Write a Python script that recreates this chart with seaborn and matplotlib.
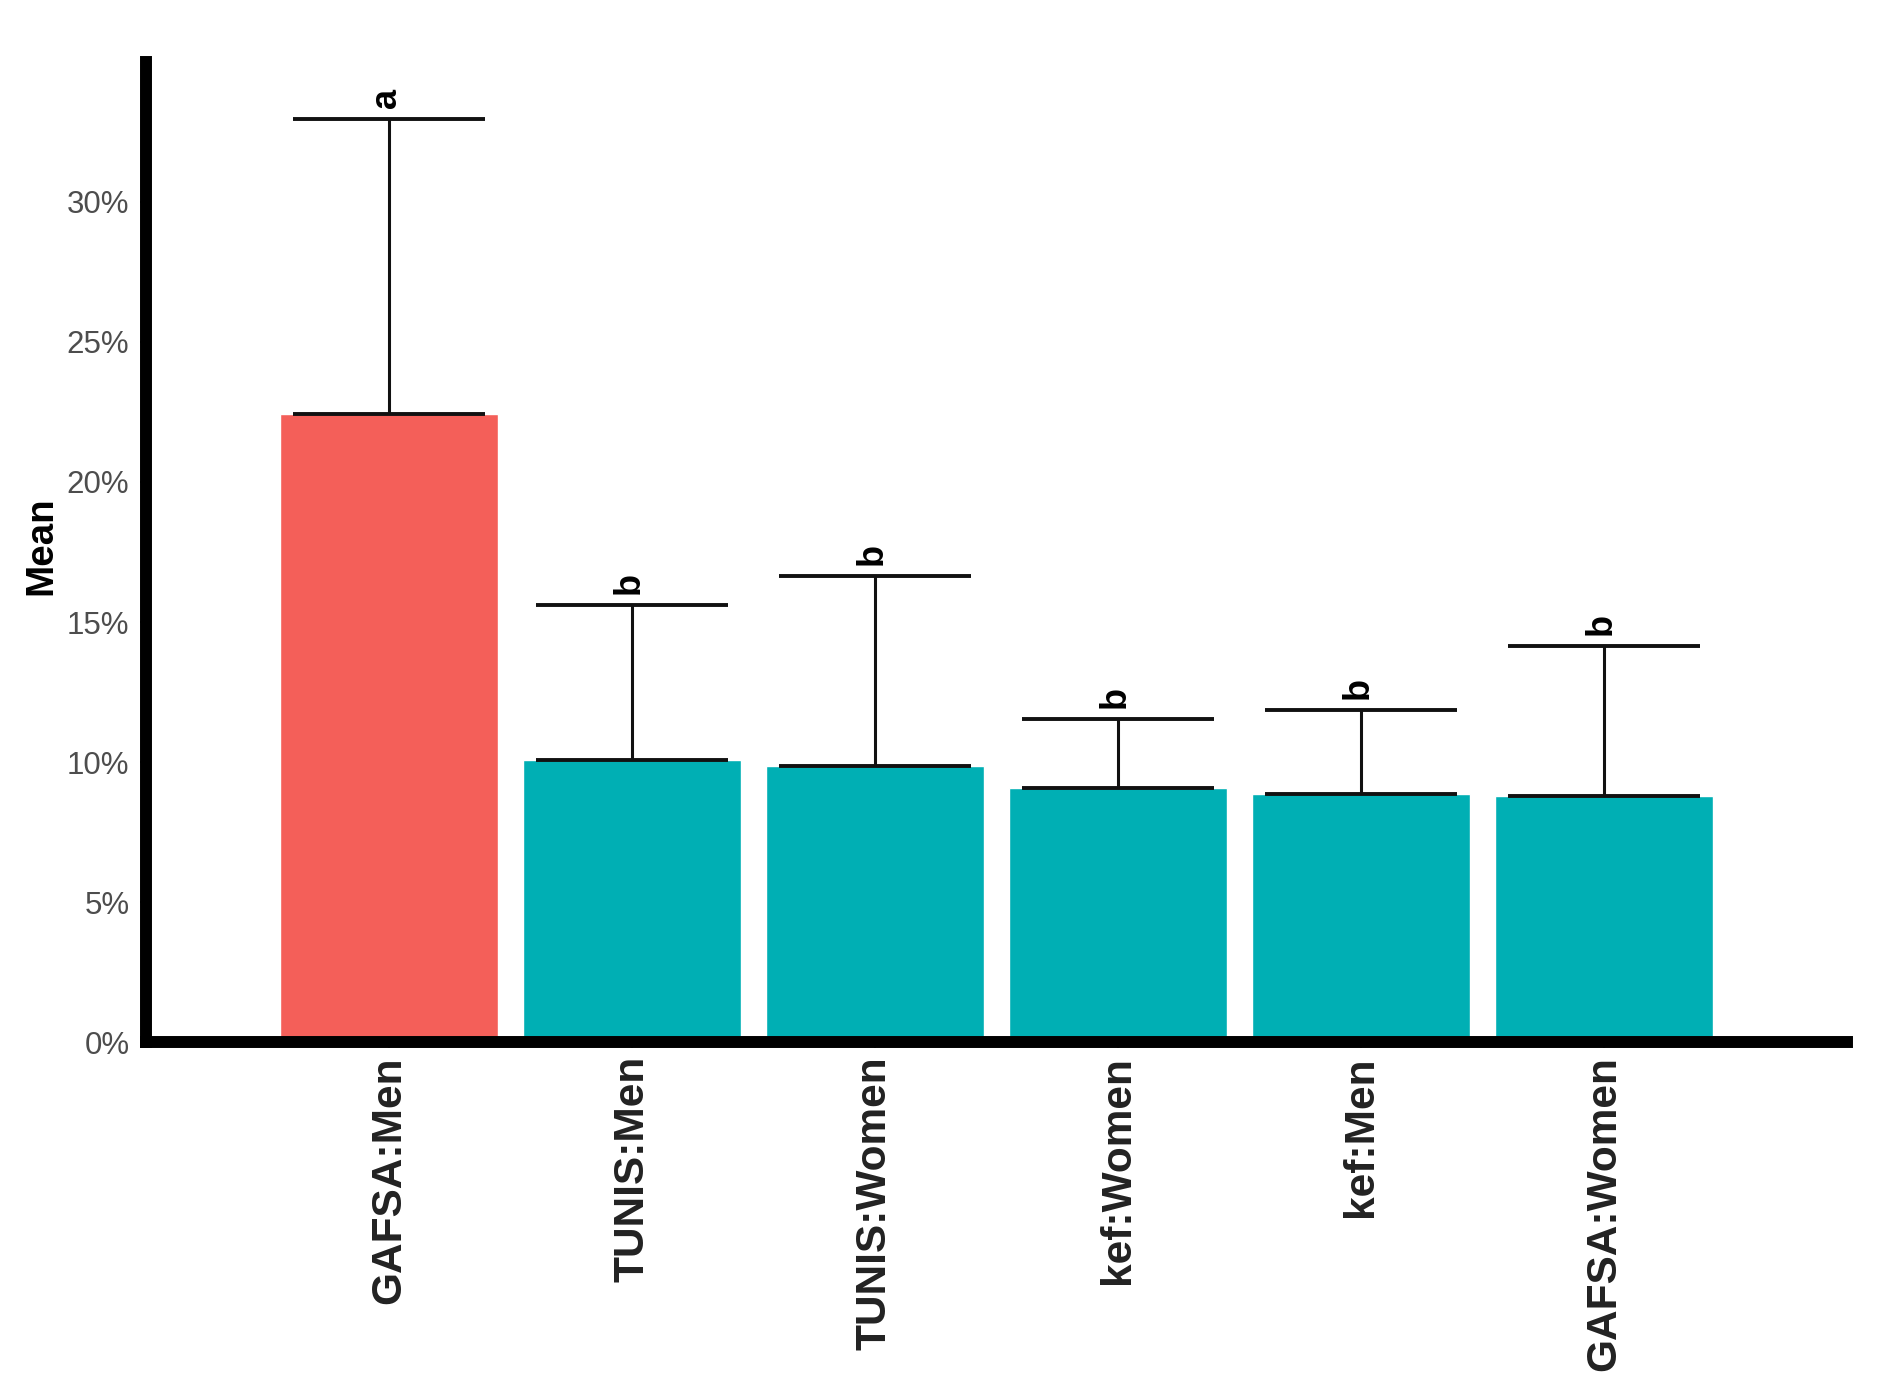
import numpy as np
import pandas as pd
import seaborn as sns
import matplotlib.pyplot as plt
from matplotlib.ticker import FuncFormatter

# valeurs (en %)
groupes = ['GAFSA:Men', 'TUNIS:Men', 'TUNIS:Women', 'kef:Women', 'kef:Men', 'GAFSA:Women']
moyennes = [22.43, 10.09, 9.87, 9.08, 8.86, 8.78]
hauts = [32.95, 15.62, 16.65, 11.55, 11.85, 14.13]
lettres = ['a', 'b', 'b', 'b', 'b', 'b']
couleurs = ['#F45F59', '#00AFB4', '#00AFB4', '#00AFB4', '#00AFB4', '#00AFB4']

df = pd.DataFrame({'groupe': groupes, 'moyenne': moyennes})

sns.set_theme(style='white')
plt.rcParams['font.family'] = ['Liberation Sans', 'DejaVu Sans']

fig = plt.figure(figsize=(19.02, 13.8), dpi=100)
ax = fig.add_axes([0.0768, 0.2448, 0.8942, 0.7104])

sns.barplot(data=df, x='groupe', y='moyenne', hue='groupe', palette=couleurs,
            legend=False, width=0.9, saturation=1, ax=ax, zorder=1)

x = np.arange(len(groupes))
err_bas = np.zeros(len(groupes))
err_haut = np.array(hauts) - np.array(moyennes)
ax.errorbar(x, moyennes, yerr=[err_bas, err_haut], fmt='none', ecolor='#111111',
            elinewidth=2.2, capsize=69.3, capthick=2.8, zorder=3)

for i in range(len(groupes)):
    ax.annotate(lettres[i], (x[i], hauts[i]), xytext=(-2, 8), textcoords='offset points',
                rotation=90, ha='center', va='bottom', fontsize=26,
                fontweight='bold', color='black')

ax.set_xlim(-1.0, 6.0)
ax.set_ylim(0, 35)
ax.set_yticks([0, 5, 10, 15, 20, 25, 30])
ax.yaxis.set_major_formatter(FuncFormatter(lambda v, p: f'{v:.0f}%'))

for s in ['top', 'right']:
    ax.spines[s].set_visible(False)
for s in ['left', 'bottom']:
    ax.spines[s].set_linewidth(8.6)
    ax.spines[s].set_color('black')
    ax.spines[s].set_zorder(5)

ax.tick_params(axis='y', length=4, width=1.5, color='#333333', pad=8,
               labelsize=22.5, labelcolor='#4D4D4D', left=True)
ax.tick_params(axis='x', length=4, width=1.5, color='#333333', pad=6,
               labelsize=30.5, labelcolor='#222222', bottom=True)
plt.setp(ax.get_xticklabels(), rotation=90, fontweight='bold')

ax.set_xlabel('')
ax.set_ylabel('Mean', fontsize=27.7, fontweight='bold', color='black')
ax.yaxis.set_label_coords(-0.0508, 0.506)

fig.savefig('out.png', dpi=100, facecolor='white')
